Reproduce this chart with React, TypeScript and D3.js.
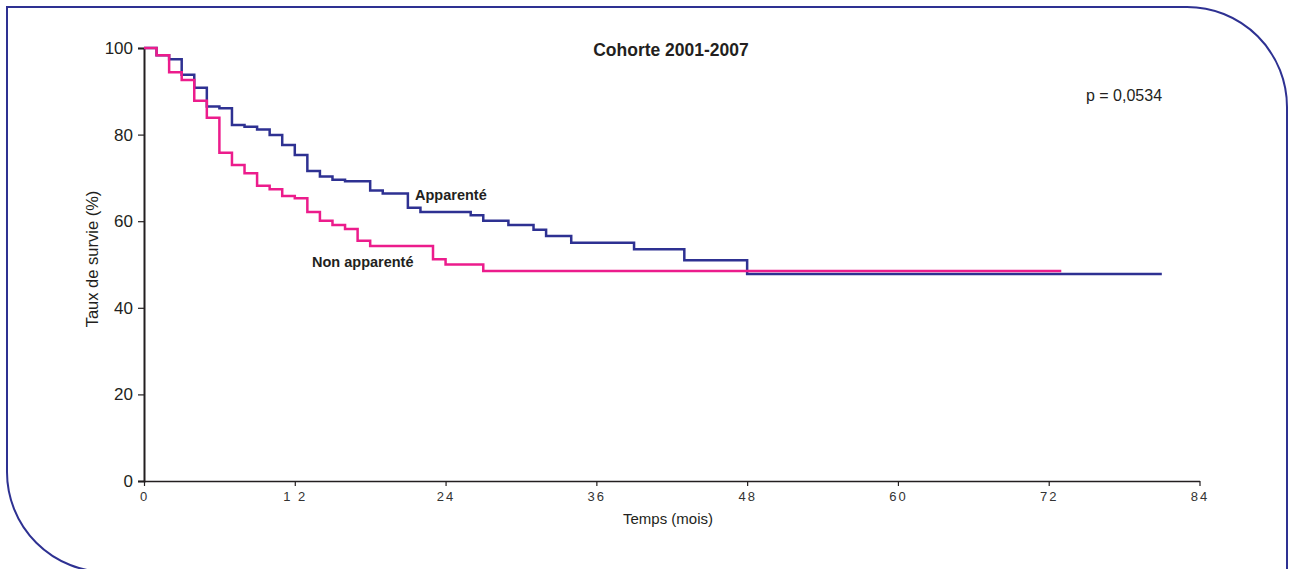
import { useEffect, useRef } from 'react';
import * as d3 from 'd3';

// Kaplan-Meier steps: [month, survival %]
const apparente: [number, number][] = [
  [0, 100], [1, 98.3], [2, 97.4], [3, 93.8], [4, 90.8], [5, 86.5], [6, 86.1],
  [7, 82.2], [8, 81.8], [9, 81.2], [10, 79.9], [11, 77.6], [12, 75.3], [13, 71.6],
  [14, 70.3], [15, 69.6], [16, 69.2], [18, 67.1], [19, 66.4], [21, 63.1], [22, 62.1],
  [26, 61.4], [27, 60.1], [29, 59.1], [31, 58], [32, 56.6], [34, 55], [39, 53.5],
  [43, 51], [48, 47.8], [81, 47.8],
];

const nonApparente: [number, number][] = [
  [0, 100], [1, 98.3], [2, 94.4], [3, 92.6], [4, 87.8], [5, 83.9], [6, 75.8],
  [7, 73], [8, 71.1], [9, 68.2], [10, 67.4], [11, 65.8], [12, 65.3], [13, 62.1],
  [14, 60.1], [15, 59.1], [16, 58.2], [17, 55.5], [18, 54.3], [23, 51.2], [24, 50],
  [27, 48.5], [73, 48.5],
];

const xTicks = [0, 12, 24, 36, 48, 60, 72, 84];
const xTickLabels = ['0', '1 2', '24', '36', '48', '60', '72', '84'];
const yTicks = [0, 20, 40, 60, 80, 100];

const BLUE = '#2e3192';
const PINK = '#ec1c8c';
const SANS = '"Liberation Sans", Arial, sans-serif';

export default function App() {
  const ref = useRef<SVGSVGElement | null>(null);

  useEffect(() => {
    if (!ref.current) return;
    const svg = d3.select(ref.current);
    svg.selectAll('*').remove();

    // frame
    svg.append('path')
      .attr('d', 'M7,7 H1187 A100,100 0 0 1 1287,107 V572 H107 A100,100 0 0 1 7,472 Z')
      .attr('fill', 'none')
      .attr('stroke', BLUE)
      .attr('stroke-width', 2);

    const x = d3.scaleLinear().domain([0, 84]).range([144, 1199.5]);
    const y = d3.scaleLinear().domain([0, 100]).range([481, 48]);

    // Y axis
    const ya = svg.append('g')
      .attr('transform', 'translate(144,0)')
      .call(d3.axisLeft(y).tickValues(yTicks).tickSize(6).tickPadding(5));
    ya.select('.domain').attr('stroke', '#231f20').attr('stroke-width', 2);
    ya.selectAll('.tick line').attr('stroke', '#231f20').attr('stroke-width', 1.2);
    ya.selectAll('.tick text')
      .attr('font-family', SANS)
      .attr('font-size', 17)
      .attr('fill', '#231f20');

    // X axis
    const xa = svg.append('g')
      .attr('transform', 'translate(0,481)')
      .call(d3.axisBottom(x).tickValues(xTicks).tickSize(5).tickPadding(6)
        .tickSizeOuter(0)
        .tickFormat((_d, i) => xTickLabels[i]));
    xa.select('.domain').attr('stroke', '#231f20').attr('stroke-width', 1.5);
    xa.selectAll('.tick line').attr('stroke', '#231f20').attr('stroke-width', 1.2);
    xa.selectAll('.tick text')
      .attr('font-family', SANS)
      .attr('font-size', 13)
      .attr('letter-spacing', 2)
      .attr('fill', '#333');

    const line = d3.line<[number, number]>()
      .x(d => x(d[0]))
      .y(d => y(d[1]))
      .curve(d3.curveStepAfter);

    svg.append('path')
      .datum(apparente)
      .attr('d', line)
      .attr('fill', 'none')
      .attr('stroke', BLUE)
      .attr('stroke-width', 2.5);

    svg.append('path')
      .datum(nonApparente)
      .attr('d', line)
      .attr('fill', 'none')
      .attr('stroke', PINK)
      .attr('stroke-width', 2.5);

    // texts
    const txt = (tx: number, ty: number, s: string, size: number, weight: string, anchor = 'start') =>
      svg.append('text')
        .attr('x', tx).attr('y', ty)
        .attr('font-family', SANS)
        .attr('font-size', size)
        .attr('font-weight', weight)
        .attr('text-anchor', anchor)
        .attr('fill', '#231f20')
        .text(s);

    txt(671, 56, 'Cohorte 2001-2007', 17.5, 'bold', 'middle');
    txt(1124, 101, 'p = 0,0534', 16, 'normal', 'middle');
    txt(415, 200, 'Apparenté', 14.5, 'bold');
    txt(312, 267, 'Non apparenté', 14.5, 'bold');
    txt(668, 524, 'Temps (mois)', 15, 'normal', 'middle');
    svg.append('text')
      .attr('transform', 'translate(98,259) rotate(-90)')
      .attr('font-family', SANS)
      .attr('font-size', 16.5)
      .attr('text-anchor', 'middle')
      .attr('fill', '#231f20')
      .text('Taux de survie (%)');
  }, []);

  return (
    <svg
      ref={ref}
      width={1289}
      height={569}
      style={{ position: 'absolute', left: 0, top: 0, display: 'block', background: '#fff' }}
    />
  );
}
